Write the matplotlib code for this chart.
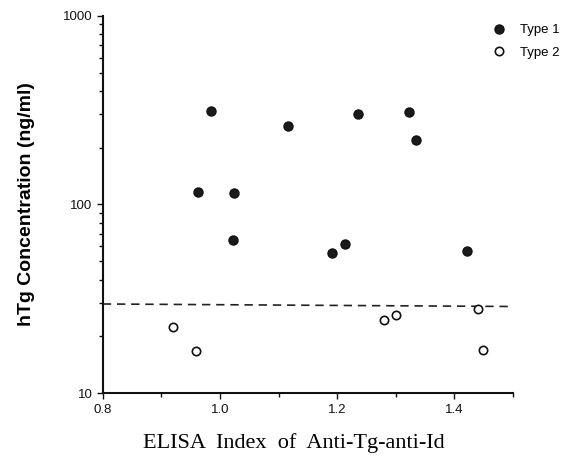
import numpy as np
import matplotlib
matplotlib.use("Agg")
import matplotlib.pyplot as plt
from matplotlib.ticker import FixedLocator, NullFormatter, LogLocator

# Type 1 (filled circles)
type1_x = [0.963, 0.985, 1.023, 1.022, 1.116, 1.191, 1.213, 1.236, 1.323, 1.334, 1.421]
type1_y = [117, 312, 115, 65, 261, 55, 61.5, 301, 310, 220, 57]

# Type 2 (open circles)
type2_x = [0.920, 0.959, 1.280, 1.300, 1.440, 1.449]
type2_y = [22.4, 16.7, 24.4, 26.0, 27.9, 17.0]

# cut-off line (dashed), slightly tilted in the scan
cutoff_x = [0.8, 1.5]
cutoff_y = [29.7, 28.8]

x_major = [0.8, 1.0, 1.2, 1.4]
x_minor = [0.9, 1.1, 1.3, 1.5]
x_labels = ["0.8", "1.0", "1.2", "1.4"]

fig = plt.figure(figsize=(5.65, 4.61), dpi=100)
ax = fig.add_axes([0.182, 0.147, 0.726, 0.819])

ax.plot(cutoff_x, cutoff_y, color="#222222", lw=1.2, ls=(0, (5, 3.5)), zorder=1)
ax.plot(type1_x, type1_y, "o", color="#1a1a1a", ms=6.5, mec="#111111", ls="none",
        label="Type 1", zorder=3)
ax.plot(type2_x, type2_y, "o", mfc="white", mec="#111111", mew=1.2, ms=6.0, ls="none",
        label="Type 2", zorder=3)

ax.set_yscale("log")
ax.set_ylim(10, 1000)
ax.set_xlim(0.8, 1.5)

ax.xaxis.set_major_locator(FixedLocator(x_major))
ax.xaxis.set_minor_locator(FixedLocator(x_minor))
ax.set_xticklabels(x_labels)
ax.yaxis.set_major_locator(FixedLocator([10, 100, 1000]))
ax.yaxis.set_minor_locator(LogLocator(base=10, subs=np.arange(2, 10)))
ax.yaxis.set_minor_formatter(NullFormatter())
ax.set_yticklabels(["10", "100", "1000"])

for s in ["top", "right"]:
    ax.spines[s].set_visible(False)
for s in ["left", "bottom"]:
    ax.spines[s].set_linewidth(1.5)
    ax.spines[s].set_color("#111111")

ax.tick_params(which="major", direction="out", length=4, width=1, colors="#111111",
               labelsize=9.5)
ax.tick_params(which="minor", direction="out", length=3, width=1, colors="#111111")
for lab in ax.get_xticklabels() + ax.get_yticklabels():
    lab.set_family("Liberation Sans")

ax.set_ylabel("hTg Concentration (ng/ml)", family="Liberation Sans", fontweight="bold",
              fontsize=14, labelpad=20)
ax.set_xlabel("ELISA  Index  of  Anti-Tg-anti-Id", family="Liberation Serif",
              fontsize=16, labelpad=14)
ax.xaxis.set_label_coords(0.466, -0.105)

leg = ax.legend(loc="upper left", bbox_to_anchor=(0.8715, 0.948),
                bbox_transform=fig.transFigure, frameon=False,
                borderaxespad=0, borderpad=0,
                prop={"family": "Liberation Sans", "size": 9.5}, handletextpad=1.1,
                handlelength=1.0, labelspacing=0.8)

fig.savefig("out.png", dpi=100)
